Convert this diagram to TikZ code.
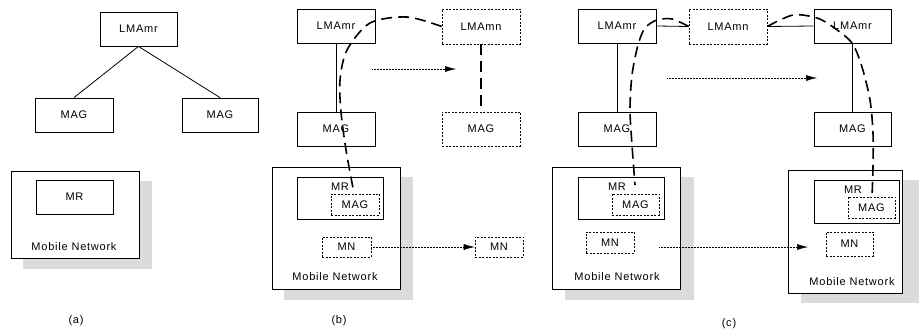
\documentclass[tikz,border=0pt]{standalone}
\usepackage{fontspec}
\setmainfont[LetterSpace=7]{Liberation Sans}
\usetikzlibrary{arrows.meta}

\begin{document}
\begin{tikzpicture}[
    x=1pt, y=-1pt,
    font=\fontsize{11}{13}\selectfont,
    box/.style={rectangle, draw, line width=0.8pt, inner sep=0pt},
    dbox/.style={rectangle, draw, line width=0.6pt, dash pattern=on 2pt off 1.5pt, inner sep=0pt},
    shade/.style={fill=black!14},
    link/.style={line width=0.8pt},
    bigdash/.style={line width=1.6pt, dash pattern=on 11pt off 6pt},
    move/.style={densely dotted, line width=0.5pt, -{Latex[length=11pt, width=6pt]}}
]
    \useasboundingbox (0,0) rectangle (919,331);

    \node[box, minimum width=77pt, minimum height=34pt] (lmaA) at (138.5, 29) {LMAmr};
    \node[box, minimum width=78pt, minimum height=34pt] (magAl) at (74, 115) {MAG};
    \node[box, minimum width=76pt, minimum height=34pt] (magAr) at (220, 115) {MAG};
    \draw[link] (lmaA.south) -- (magAl.north);
    \draw[link] (lmaA.south) -- (magAr.north);

    \fill[shade] (23, 181) rectangle (152, 269);
    \node[box, fill=white, minimum width=128pt, minimum height=87pt] (netA) at (75, 214.5) {};
    \node[box, minimum width=77pt, minimum height=34pt] (mrA) at (74.5, 197) {MR};
    \node (netAtxt) at (74, 247) {Mobile Network};
    \node (capA) at (76, 321) {(a)};


    \node[box, minimum width=78pt, minimum height=34pt] (lmaB) at (336, 26) {LMAmr};
    \node[dbox, minimum width=78pt, minimum height=35pt] (lmanB) at (481, 26.5) {LMAmn};
    \node[box, minimum width=78pt, minimum height=34pt] (magB) at (336, 129) {MAG};
    \node[dbox, minimum width=78pt, minimum height=34pt] (magBn) at (481, 129) {MAG};
    \draw[link] (lmaB.south) -- (magB.north);
    \draw[bigdash] (lmanB.south) -- (magBn.north);

    \fill[shade] (284, 177) rectangle (413, 300);
    \node[box, fill=white, minimum width=128pt, minimum height=122pt] (netB) at (336, 228) {};
    \node[box, minimum width=86pt, minimum height=42pt] (mrB) at (340, 198) {};
    \node (mrBtxt) at (340, 187) {MR};
    \node[dbox, minimum width=48pt, minimum height=21pt] (magBi) at (355, 204.5) {MAG};
    \node[dbox, minimum width=49pt, minimum height=20pt] (mnB) at (346.5, 247) {MN};
    \node[dbox, minimum width=48pt, minimum height=20pt] (mnBn) at (499, 247) {MN};
    \node (netBtxt) at (335, 277) {Mobile Network};
    \node (capB) at (339, 321) {(b)};

    \coordinate (mvB1) at (372, 69);
    \coordinate (mvB2) at (456, 69);
    \draw[move] (mvB1) -- (mvB2);
    \draw[move] (mnB.east) -- (mnBn.west);
    \draw[bigdash] plot[smooth] coordinates {(lmanB.west) (407, 17) (370, 23) (347, 50) (340, 80) (341, 112) (346, 150) (353, 188)};


    \node[box, minimum width=78pt, minimum height=34pt] (lmaCl) at (617, 26) {LMAmr};
    \node[dbox, minimum width=78pt, minimum height=35pt] (lmanC) at (728, 26.5) {LMAmn};
    \node[box, minimum width=77pt, minimum height=34pt] (lmaCr) at (852.5, 26) {LMAmr};
    \node[box, minimum width=78pt, minimum height=34pt] (magCl) at (617, 129) {MAG};
    \node[box, minimum width=77pt, minimum height=34pt] (magCr) at (852.5, 129) {MAG};
    \draw[link] (lmaCl.east) -- (lmanC.west);
    \draw[link] (lmanC.east) -- (lmaCr.west);
    \draw[link] (lmaCl.south) -- (magCl.north);
    \draw[link] (lmaCr.south) -- (magCr.north);

    \fill[shade] (565, 177) rectangle (694, 300);
    \node[box, fill=white, minimum width=128pt, minimum height=122pt] (netCl) at (616, 228) {};
    \node[box, minimum width=86pt, minimum height=42pt] (mrCl) at (621, 198) {};
    \node (mrCltxt) at (617, 187) {MR};
    \node[dbox, minimum width=47pt, minimum height=21pt] (magCli) at (635.5, 204.5) {MAG};
    \node[dbox, minimum width=48pt, minimum height=21pt] (mnCl) at (610, 242.5) {MN};
    \node (netCltxt) at (617, 277) {Mobile Network};

    \fill[shade] (801, 180) rectangle (920, 303);
    \node[box, fill=white, minimum width=114pt, minimum height=123pt] (netCr) at (845, 231.5) {};
    \node[box, minimum width=85pt, minimum height=43pt] (mrCr) at (856.5, 201.5) {};
    \node (mrCrtxt) at (853, 190) {MR};
    \node[dbox, minimum width=47pt, minimum height=21pt] (magCri) at (871.5, 207.5) {MAG};
    \node[dbox, minimum width=47pt, minimum height=24pt] (mnCr) at (849.5, 244) {MN};
    \node (netCrtxt) at (852, 282) {Mobile Network};
    \node (capC) at (729, 323.5) {(c)};

    \coordinate (mvC1) at (667, 78);
    \coordinate (mvC2) at (817, 78);
    \coordinate (mvC3) at (659, 247);
    \coordinate (mvC4) at (808, 247);
    \draw[move] (mvC1) -- (mvC2);
    \draw[move] (mvC3) -- (mvC4);
    \draw[bigdash] plot[smooth] coordinates {(lmanC.west) (672, 19) (657, 20) (645, 28) (638, 45) (632, 75) (630, 110) (632, 145) (635, 185)};
    \draw[bigdash] plot[smooth] coordinates {(lmanC.east) (793, 15) (817, 18) (833, 27) (852, 43) (862, 67) (870, 100) (873, 133) (873, 167) (872, 197)};

\end{tikzpicture}
\end{document}
